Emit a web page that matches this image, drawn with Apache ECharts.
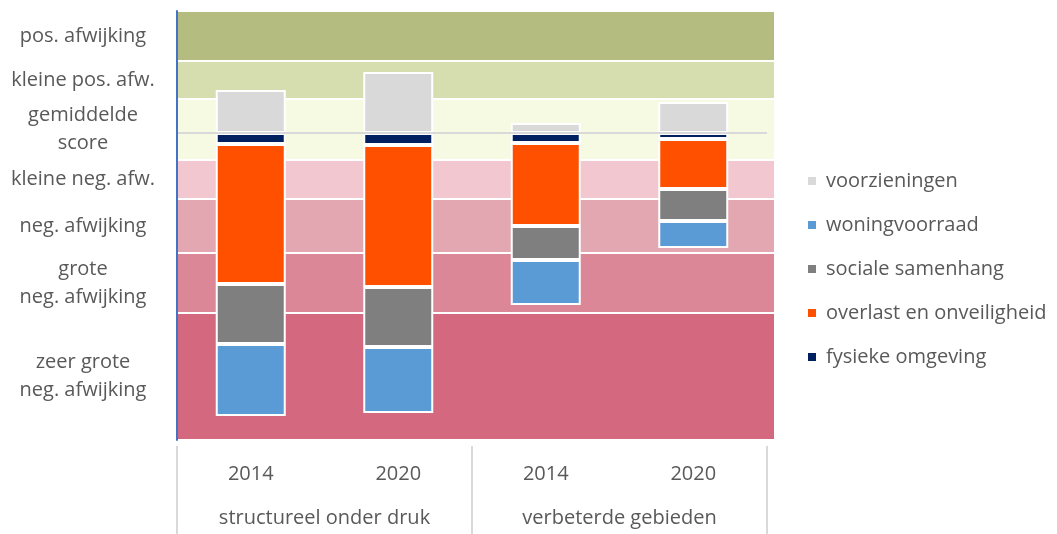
<!DOCTYPE html>
<html>
<head>
<meta charset="utf-8">
<script src="https://cdn.jsdelivr.net/npm/echarts@6/dist/echarts.min.js"></script>
<style>html,body{margin:0;padding:0;background:#fff}#c{width:1057px;height:534px}</style>
</head>
<body>
<div id="c"></div>
<script>
var years = ['2014', '2020', '2014', '2020'];
var groups = ['structureel onder druk', 'verbeterde gebieden'];
var voorzieningen = [4.3, 6.1, 1.0, 3.1];
var fysiekeOmgeving = [-1.1, -1.2, -1.0, -0.6];
var overlast = [-14.0, -14.2, -8.3, -5.0];
var socialeSamenhang = [-6.0, -6.0, -3.4, -3.2];
var woningvoorraad = [-7.2, -6.6, -4.5, -2.7];
var bandLabels = ['pos. afwijking', 'kleine pos. afw.', 'gemiddelde\nscore', 'kleine neg. afw.', 'neg. afwijking', 'grote\nneg. afwijking', 'zeer grote\nneg. afwijking'];
var bandEdges = [12.2, 7.2, 3.4, -2.7, -6.6, -12.0, -18.0, -30.7];
var bandColors = ['#B4BD7F', '#D6DEAF', '#F7FAE3', '#F2C7CF', '#E3A7B2', '#DC8797', '#D4687E'];
var legendOrder = ['voorzieningen', 'woningvoorraad', 'sociale samenhang', 'overlast en onveiligheid', 'fysieke omgeving'];

var FONT = 'Open Sans';
var TXT = '#595959';
var FS = 20;
var YMIN = -30.7, YMAX = 12.2;

var areas = bandLabels.map(function (lab, i) {
  return [{
    yAxis: bandEdges[i],
    name: lab,
    itemStyle: { color: bandColors[i], borderColor: '#ffffff', borderWidth: 2 },
    label: {
      show: true, position: 'left', distance: 93, align: 'center', verticalAlign: 'middle',
      formatter: lab, color: TXT, fontFamily: FONT, fontSize: FS, lineHeight: 28
    }
  }, { yAxis: bandEdges[i + 1] }];
});

function barSeries(name, data, color) {
  return {
    name: name, type: 'bar', stack: 'total', data: data, barWidth: 70,
    xAxisIndex: 0, yAxisIndex: 0, z: 3,
    itemStyle: { color: color, borderColor: '#ffffff', borderWidth: 2 }
  };
}

var chart = echarts.init(document.getElementById('c'));
chart.setOption({
  animation: false,
  textStyle: { fontFamily: FONT },
  grid: [
    { left: 177, right: 290, top: 11, bottom: 94 },
    { left: 177, right: 282, top: 11, bottom: 94 }
  ],
  legend: {
    orient: 'vertical', left: 806, top: 170, padding: 0,
    data: legendOrder, icon: 'rect', itemWidth: 10, itemHeight: 10, itemGap: 22,
    textStyle: { color: TXT, fontFamily: FONT, fontSize: FS, lineHeight: 22, padding: [0, 0, 0, 4] }
  },
  xAxis: [
    { type: 'category', gridIndex: 0, data: years, position: 'bottom',
      axisLine: { show: false }, axisTick: { show: false },
      axisLabel: { color: TXT, fontFamily: FONT, fontSize: FS, margin: 24 } },
    { type: 'category', gridIndex: 0, data: groups, position: 'bottom', offset: 6,
      axisLine: { show: false },
      axisTick: { show: true, length: 90, lineStyle: { color: '#D9D9D9', width: 2 } },
      axisLabel: { color: TXT, fontFamily: FONT, fontSize: FS, margin: 62 } },
    { type: 'value', gridIndex: 1, min: 0, max: 1, show: false }
  ],
  yAxis: [
    { type: 'value', gridIndex: 0, min: YMIN, max: YMAX, z: 10,
      axisLine: { show: true, lineStyle: { color: '#4472C4', width: 2 } },
      axisTick: { show: false }, axisLabel: { show: false }, splitLine: { show: false } },
    { type: 'value', gridIndex: 1, min: YMIN, max: YMAX, show: false, splitLine: { show: false } }
  ],
  series: [
    { type: 'line', xAxisIndex: 2, yAxisIndex: 1, data: [], z: 0, silent: true,
      markArea: { silent: true, data: areas } },
    barSeries('fysieke omgeving', fysiekeOmgeving, '#002060'),
    barSeries('overlast en onveiligheid', overlast, '#FF5000'),
    barSeries('sociale samenhang', socialeSamenhang, '#7F7F7F'),
    barSeries('woningvoorraad', woningvoorraad, '#5B9BD5'),
    barSeries('voorzieningen', voorzieningen, '#D9D9D9'),
    { type: 'line', xAxisIndex: 0, yAxisIndex: 0, data: [], z: 6, silent: true,
      markLine: { silent: true, symbol: 'none', label: { show: false },
        lineStyle: { color: '#D9D9D9', width: 2, type: 'solid' }, data: [{ yAxis: 0 }] } }
  ]
});
</script>
</body>
</html>
